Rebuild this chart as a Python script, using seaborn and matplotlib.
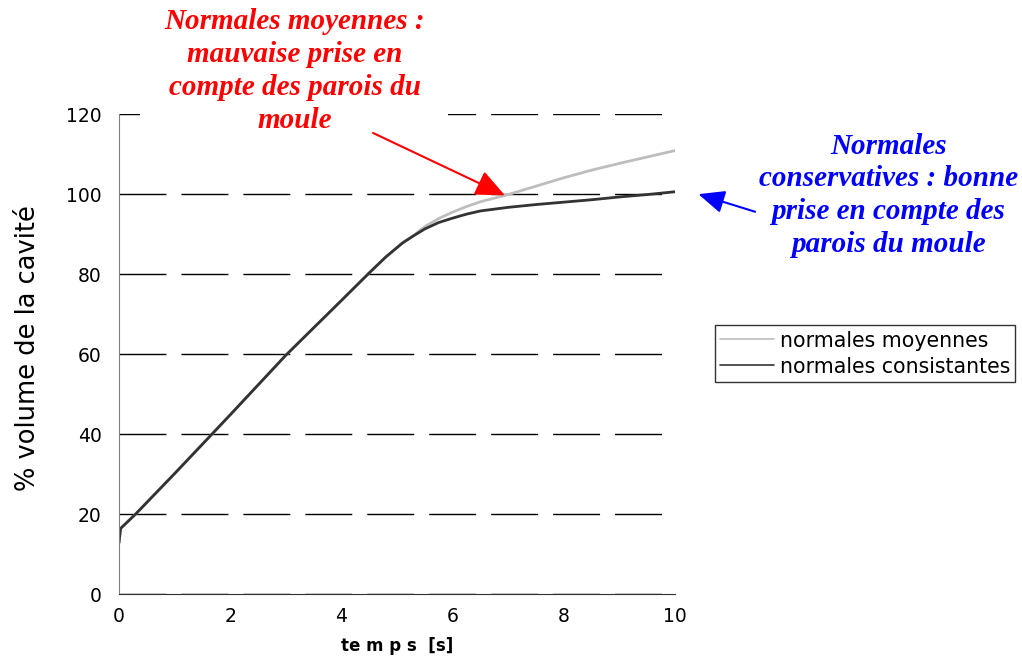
import numpy as np
import pandas as pd
import matplotlib
matplotlib.use("Agg")
import matplotlib.pyplot as plt
from matplotlib.patches import Rectangle
import seaborn as sns

# valeurs
temps = [0, 0.03, 0.3, 1, 2, 3, 4, 4.5, 4.8, 5.1, 5.3, 5.5, 5.75, 6, 6.25, 6.5, 7, 7.5, 8, 8.5, 9, 9.5, 10]
vol_moyennes = [12.8, 16.4, 20, 30.1, 44.8, 59.7, 73.4, 80.3, 84.3, 87.8, 89.7,
                91.9, 93.9, 95.5, 96.9, 98.1, 99.9, 102.0, 104.1, 106.0, 107.7, 109.3, 110.9]
vol_consistantes = [12.8, 16.4, 20, 30.1, 44.8, 59.7, 73.4, 80.3, 84.3, 87.8, 89.6,
                    91.3, 92.9, 94.0, 95.0, 95.8, 96.7, 97.4, 98.0, 98.6, 99.3, 99.9, 100.6]
noms = ["normales moyennes", "normales consistantes"]
couleurs = ["#bdbdbd", "#333333"]
yticks = [0, 20, 40, 60, 80, 100, 120]
xticks = [0, 2, 4, 6, 8, 10]

df = pd.DataFrame({
    "temps": temps * 2,
    "volume": vol_moyennes + vol_consistantes,
    "serie": [noms[0]] * len(temps) + [noms[1]] * len(temps),
})

sns.set_style("white")
plt.rcParams["font.family"] = ["DejaVu Sans"]
plt.rcParams["text.color"] = "black"
plt.rcParams["axes.labelcolor"] = "black"

fig = plt.figure(figsize=(10.22, 6.6), dpi=100)
ax = fig.add_axes([0.1164, 0.1, 0.5441, 0.727])

sns.lineplot(data=df, x="temps", y="volume", hue="serie", hue_order=noms,
             palette=couleurs, linewidth=2.0, ax=ax, legend=True)

ax.set_xlim(0, 10)
ax.set_ylim(0, 120)
ax.set_xticks(xticks)
ax.set_yticks(yticks)
ax.tick_params(axis="both", labelsize=13.5, labelcolor="black")
ax.tick_params(axis="y", direction="out", length=4.5, width=1, color="#808080", pad=8)
ax.tick_params(axis="x", direction="out", length=3, width=1, color="#808080", pad=6)

ax.yaxis.grid(True, color="black", linewidth=1, linestyle=(0, (33.8, 10.8)))
ax.xaxis.grid(False)
for s in ["top", "right"]:
    ax.spines[s].set_visible(False)
ax.spines["left"].set_color("#808080")
ax.spines["bottom"].set_color("#303030")
ax.spines["left"].set_zorder(3)
ax.spines["bottom"].set_zorder(3)

ax.set_xlabel("te m p s  [s]", fontsize=12, fontweight="bold", labelpad=8, color="black")
ax.set_ylabel("% volume de la cavité", fontsize=18.5, color="black")
ax.yaxis.set_label_coords(-0.141, 0.5135)

leg = ax.legend(loc="center left", bbox_to_anchor=(1.072, 0.501), fontsize=14.8,
                frameon=True, fancybox=False, handlelength=2.6, handletextpad=0.3,
                borderpad=0.25, labelspacing=0.3, borderaxespad=0)
leg.get_frame().set_edgecolor("black")
leg.get_frame().set_linewidth(1)
for line in leg.get_lines():
    line.set_linewidth(1.2)
for t in leg.get_texts():
    t.set_color("black")

# fond blanc de la zone de texte rouge sur la ligne 120
ax.add_patch(Rectangle((0.038, 0.985), 0.554, 0.03, transform=ax.transAxes,
                       facecolor="white", edgecolor="none", clip_on=False, zorder=2.6))

# annotations
fig.text(0.2886, 0.892,
         "Normales moyennes :\nmauvaise prise en\ncompte des parois du\nmoule",
         ha="center", va="center", color="red", fontsize=21,
         family="Liberation Serif", fontweight="bold", style="italic",
         linespacing=1.28)
ax.annotate("", xy=(6.94, 99.7), xytext=(4.57, 115.3),
            arrowprops=dict(arrowstyle="-|>,head_length=1.8,head_width=0.8",
                            color="red", lw=1.5, shrinkA=0, shrinkB=0))

fig.text(0.869, 0.704,
         "Normales\nconservatives : bonne\nprise en compte des\nparois du moule",
         ha="center", va="center", color="#0000ff", fontsize=21,
         family="Liberation Serif", fontweight="bold", style="italic",
         linespacing=1.28)
ax.annotate("", xy=(10.42, 100.0), xytext=(11.44, 95.6), annotation_clip=False,
            arrowprops=dict(arrowstyle="-|>,head_length=1.6,head_width=0.7",
                            color="#0000ff", lw=1.5, shrinkA=0, shrinkB=0))

fig.savefig("out.png", dpi=100)
